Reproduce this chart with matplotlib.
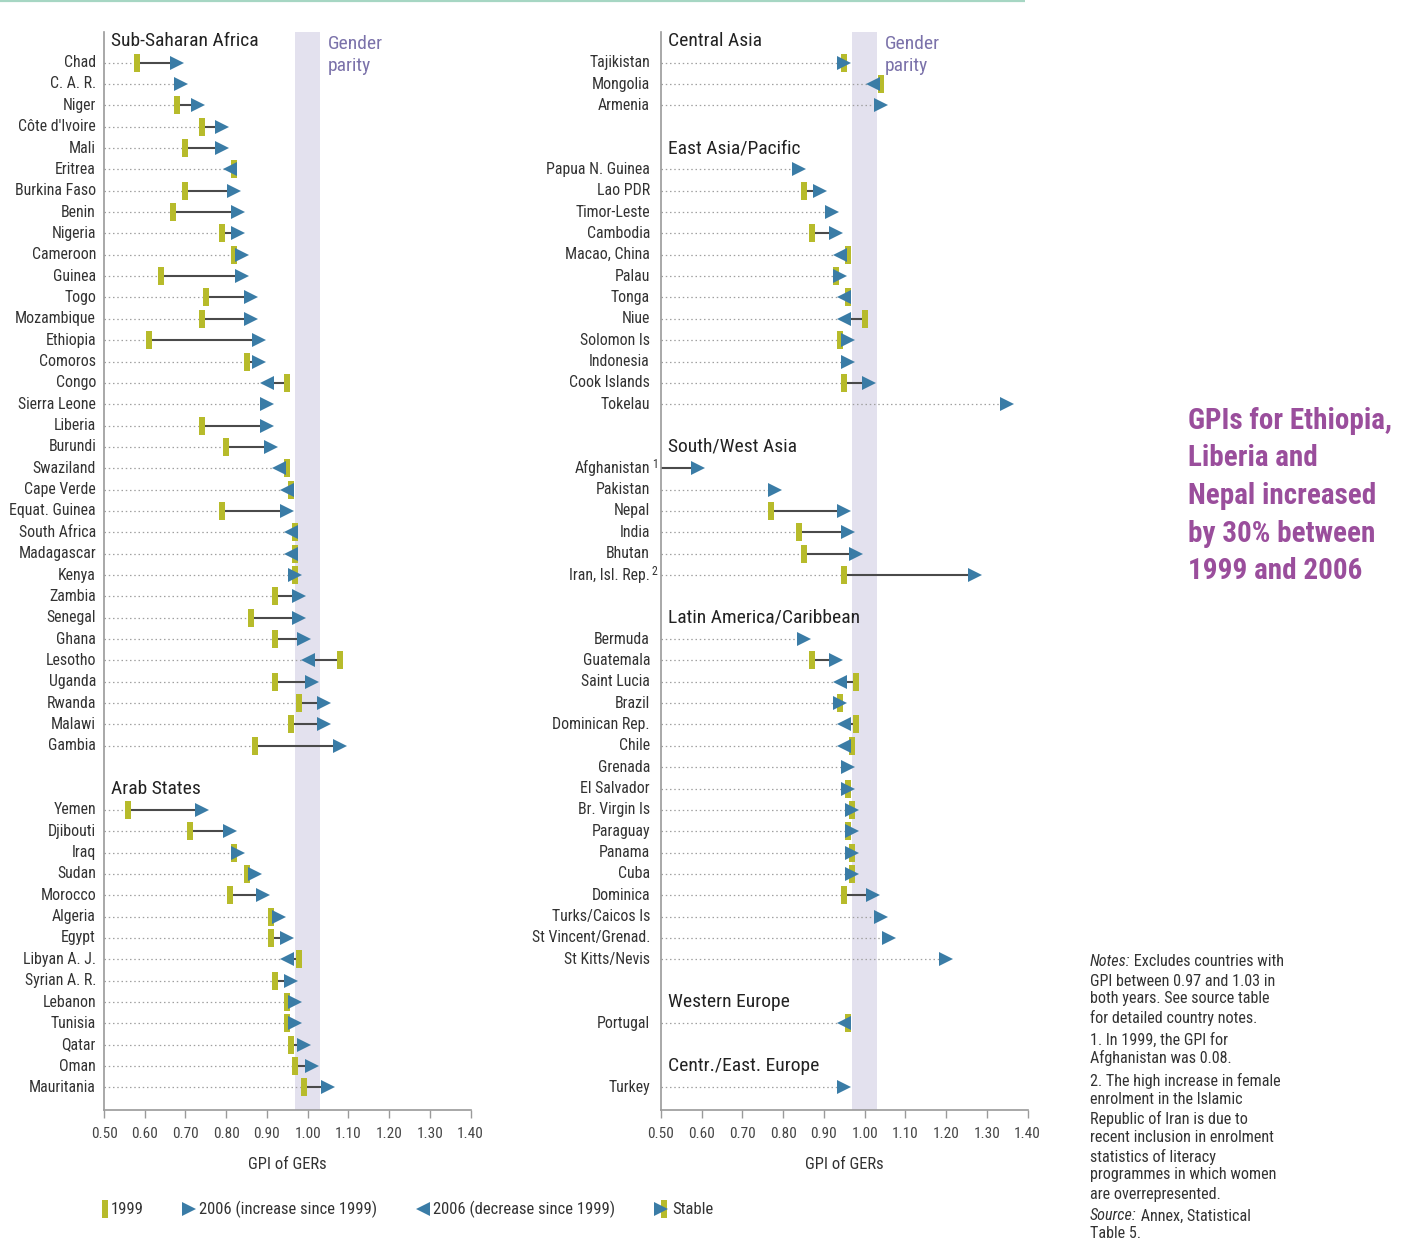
import numpy as np
import matplotlib
matplotlib.use('Agg')
import matplotlib.pyplot as plt
from matplotlib import font_manager

avail = {f.name for f in font_manager.fontManager.ttflist}
FONT = next((f for f in ['Liberation Sans Narrow', 'Roboto Condensed', 'Open Sans Condensed', 'DejaVu Sans']
             if f in avail), 'DejaVu Sans')
plt.rcParams['font.family'] = [FONT, 'DejaVu Sans']

nan = np.nan

# ---------------- data ----------------
ssa_names = ["Chad", "C. A. R.", "Niger", "Côte d'Ivoire", "Mali", "Eritrea", "Burkina Faso", "Benin",
             "Nigeria", "Cameroon", "Guinea", "Togo", "Mozambique", "Ethiopia", "Comoros", "Congo",
             "Sierra Leone", "Liberia", "Burundi", "Swaziland", "Cape Verde", "Equat. Guinea",
             "South Africa", "Madagascar", "Kenya", "Zambia", "Senegal", "Ghana", "Lesotho", "Uganda",
             "Rwanda", "Malawi", "Gambia"]
ssa_1999 = [0.58, nan, 0.68, 0.74, 0.70, 0.82, 0.70, 0.67, 0.79, 0.82, 0.64, 0.75, 0.74, 0.61, 0.85, 0.95,
            nan, 0.74, 0.80, 0.95, 0.96, 0.79, 0.97, 0.97, 0.97, 0.92, 0.86, 0.92, 1.08, 0.92, 0.98, 0.96, 0.87]
ssa_2006 = [0.68, 0.69, 0.73, 0.79, 0.79, 0.81, 0.82, 0.83, 0.83, 0.84, 0.84, 0.86, 0.86, 0.88, 0.88, 0.90,
            0.90, 0.90, 0.91, 0.93, 0.95, 0.95, 0.96, 0.96, 0.97, 0.98, 0.98, 0.99, 1.00, 1.01, 1.04, 1.04, 1.08]

arab_names = ["Yemen", "Djibouti", "Iraq", "Sudan", "Morocco", "Algeria", "Egypt", "Libyan A. J.",
              "Syrian A. R.", "Lebanon", "Tunisia", "Qatar", "Oman", "Mauritania"]
arab_1999 = [0.56, 0.71, 0.82, 0.85, 0.81, 0.91, 0.91, 0.98, 0.92, 0.95, 0.95, 0.96, 0.97, 0.99]
arab_2006 = [0.74, 0.81, 0.83, 0.87, 0.89, 0.93, 0.95, 0.95, 0.96, 0.97, 0.97, 0.99, 1.01, 1.05]

casia_names = ["Tajikistan", "Mongolia", "Armenia"]
casia_1999 = [0.95, 1.04, nan]
casia_2006 = [0.95, 1.02, 1.04]

eap_names = ["Papua N. Guinea", "Lao PDR", "Timor-Leste", "Cambodia", "Macao, China", "Palau", "Tonga",
             "Niue", "Solomon Is", "Indonesia", "Cook Islands", "Tokelau"]
eap_1999 = [nan, 0.85, nan, 0.87, 0.96, 0.93, 0.96, 1.00, 0.94, nan, 0.95, nan]
eap_2006 = [0.84, 0.89, 0.92, 0.93, 0.94, 0.94, 0.95, 0.95, 0.96, 0.96, 1.01, 1.35]

swa_names = ["Afghanistan", "Pakistan", "Nepal", "India", "Bhutan", "Iran, Isl. Rep."]
swa_notes = ["1", "", "", "", "", "2"]
swa_1999 = [0.08, nan, 0.77, 0.84, 0.85, 0.95]
swa_2006 = [0.59, 0.78, 0.95, 0.96, 0.98, 1.27]

lac_names = ["Bermuda", "Guatemala", "Saint Lucia", "Brazil", "Dominican Rep.", "Chile", "Grenada",
             "El Salvador", "Br. Virgin Is", "Paraguay", "Panama", "Cuba", "Dominica", "Turks/Caicos Is",
             "St Vincent/Grenad.", "St Kitts/Nevis"]
lac_1999 = [nan, 0.87, 0.98, 0.94, 0.98, 0.97, nan, 0.96, 0.97, 0.96, 0.97, 0.97, 0.95, nan, nan, nan]
lac_2006 = [0.85, 0.93, 0.94, 0.94, 0.95, 0.95, 0.96, 0.96, 0.97, 0.97, 0.97, 0.97, 1.02, 1.04, 1.06, 1.20]

weu_names = ["Portugal"]
weu_1999 = [0.96]
weu_2006 = [0.95]

cee_names = ["Turkey"]
cee_1999 = [nan]
cee_2006 = [0.95]

x_ticks = [0.50, 0.60, 0.70, 0.80, 0.90, 1.00, 1.10, 1.20, 1.30, 1.40]
parity_lo, parity_hi = 0.97, 1.03

left_groups = [("Sub-Saharan Africa", ssa_names, ssa_1999, ssa_2006, None),
               ("Arab States", arab_names, arab_1999, arab_2006, None)]
right_groups = [("Central Asia", casia_names, casia_1999, casia_2006, None),
                ("East Asia/Pacific", eap_names, eap_1999, eap_2006, None),
                ("South/West Asia", swa_names, swa_1999, swa_2006, swa_notes),
                ("Latin America/Caribbean", lac_names, lac_1999, lac_2006, None),
                ("Western Europe", weu_names, weu_1999, weu_2006, None),
                ("Centr./East. Europe", cee_names, cee_1999, cee_2006, None)]

# ---------------- style ----------------
C_BAR = '#b7bb2b'
C_TRI = '#3a7ca6'
C_BAND = '#e3e1ee'
C_TEXT = '#333333'
C_PARITY = '#7b72aa'
C_AXIS = '#9a9a9a'
BAR_MARK = [(-0.15, -0.5), (0.15, -0.5), (0.15, 0.5), (-0.15, 0.5), (-0.15, -0.5)]
MS_BAR = 12.3
MS_TRI = 9.6

W, H = 1407, 1250
fig = plt.figure(figsize=(W / 100, H / 100), dpi=100)
fig.patch.set_facecolor('white')

ROW0, ROWH = 41.3, 21.35
AX_TOP, AX_BOT = 32.0, 1110.0


def px_axes(x0, x1):
    return fig.add_axes([x0 / W, 1 - AX_BOT / H, (x1 - x0) / W, (AX_BOT - AX_TOP) / H])


def draw_panel(ax, groups, label_gap):
    ax.set_xlim(0.5, 1.4)
    ax.set_ylim((AX_BOT - ROW0) / ROWH, (AX_TOP - ROW0) / ROWH)
    ax.axvspan(parity_lo, parity_hi, color=C_BAND, lw=0, zorder=0)
    for s in ['top', 'right']:
        ax.spines[s].set_visible(False)
    for s in ['left', 'bottom']:
        ax.spines[s].set_color(C_AXIS)
        ax.spines[s].set_linewidth(1.2)
    ax.set_yticks([])
    ax.set_xticks(x_ticks)
    ax.set_xticklabels([f"{t:.2f}" for t in x_ticks])
    ax.tick_params(axis='x', direction='out', length=6, width=1.0, color=C_AXIS,
                   labelsize=11, labelcolor='#444444', pad=6.5)
    ax.set_xlabel("GPI of GERs", fontsize=12, color=C_TEXT, labelpad=11)
    ax.text(1.05, 0.12, "Gender", color=C_PARITY, fontsize=14, va='center', ha='left')
    ax.text(1.05, 1.14, "parity", color=C_PARITY, fontsize=14, va='center', ha='left')

    row = 0
    for gi, (title, names, v99, v06, notes) in enumerate(groups):
        if gi > 0:
            row += 1
        ax.annotate(title, xy=(0, row), xycoords=('axes fraction', 'data'), xytext=(7, 0),
                    textcoords='offset pixels', ha='left', va='center', fontsize=14, color='#222222')
        row += 1
        for i, (n, a, b) in enumerate(zip(names, v99, v06)):
            ax.annotate(n, xy=(0, row), xycoords=('axes fraction', 'data'), xytext=(-label_gap, 0),
                        textcoords='offset pixels', ha='right', va='center', fontsize=11.4, color=C_TEXT)
            if notes is not None and notes[i]:
                ax.annotate(notes[i], xy=(0, row), xycoords=('axes fraction', 'data'),
                            xytext=(-label_gap + 2, 4), textcoords='offset pixels', ha='left',
                            va='center', fontsize=8.5, color=C_TEXT)
            lo = b if np.isnan(a) else min(a, b)
            if lo > 0.5:
                ax.plot([0.5, lo], [row, row], color='#a0a0a0', lw=0.9, ls=(0, (1.2, 2.2)), zorder=1)
            if not np.isnan(a):
                ax.plot([a, b], [row, row], color='#4a4a4a', lw=1.5, zorder=2, solid_capstyle='butt')
                ax.plot([a], [row], marker=BAR_MARK, ms=MS_BAR, color=C_BAR, mew=0, ls='none', zorder=3)
            mk = '>' if (np.isnan(a) or b >= a) else '<'
            ax.plot([b], [row], marker=mk, ms=MS_TRI, color=C_TRI, mew=0, ls='none', zorder=4)
            row += 1


axL = px_axes(104, 470.5)
draw_panel(axL, left_groups, 8)
axR = px_axes(661, 1027.5)
draw_panel(axR, right_groups, 11)

# ---------------- overlay (legend, notes, callout) ----------------
ov = fig.add_axes([0, 0, 1, 1])
ov.set_xlim(0, W)
ov.set_ylim(H, 0)
ov.axis('off')

ov.plot([0, 1025], [1, 1], color='#a6d6c3', lw=1.6, solid_capstyle='butt')

LY = 1209
ov.plot([105], [LY], marker=BAR_MARK, ms=MS_BAR, color=C_BAR, mew=0, ls='none')
ov.text(111, LY, "1999", fontsize=12, color=C_TEXT, va='center', ha='left')
ov.plot([189], [LY], marker='>', ms=MS_TRI, color=C_TRI, mew=0, ls='none')
ov.text(199, LY, "2006 (increase since 1999)", fontsize=12, color=C_TEXT, va='center', ha='left')
ov.plot([423], [LY], marker='<', ms=MS_TRI, color=C_TRI, mew=0, ls='none')
ov.text(433, LY, "2006 (decrease since 1999)", fontsize=12, color=C_TEXT, va='center', ha='left')
ov.plot([664], [LY], marker=BAR_MARK, ms=MS_BAR, color=C_BAR, mew=0, ls='none')
ov.plot([661], [LY], marker='>', ms=MS_TRI, color=C_TRI, mew=0, ls='none')
ov.text(672, LY, "Stable", fontsize=12, color=C_TEXT, va='center', ha='left')

callout = ["GPIs for Ethiopia,", "Liberia and", "Nepal increased", "by 30% between", "1999 and 2006"]
for i, line in enumerate(callout):
    ov.text(1188, 421 + i * 37.5, line, fontsize=21, color='#9a4e9c', va='center', ha='left',
            fontweight='bold')

fig.canvas.draw()
renderer = fig.canvas.get_renderer()

notes_lines = [
    (962, "Notes:", " Excludes countries with"),
    (981, "", "GPI between 0.97 and 1.03 in"),
    (999, "", "both years. See source table"),
    (1018, "", "for detailed country notes."),
    (1040, "", "1. In 1999, the GPI for"),
    (1058, "", "Afghanistan was 0.08."),
    (1081, "", "2. The high increase in female"),
    (1100, "", "enrolment in the Islamic"),
    (1119, "", "Republic of Iran is due to"),
    (1138, "", "recent inclusion in enrolment"),
    (1157, "", "statistics of literacy"),
    (1175, "", "programmes in which women"),
    (1194, "", "are overrepresented."),
    (1216, "Source:", " Annex, Statistical"),
    (1234, "", "Table 5."),
]
for y, ital, rest in notes_lines:
    x = 1090
    if ital:
        t = ov.text(x, y, ital, fontsize=11.6, style='italic', color=C_TEXT, va='center', ha='left')
        bb = t.get_window_extent(renderer)
        x = x + bb.width
    ov.text(x, y, rest, fontsize=11.6, color=C_TEXT, va='center', ha='left')

fig.savefig('out.png', dpi=100, facecolor='white')
